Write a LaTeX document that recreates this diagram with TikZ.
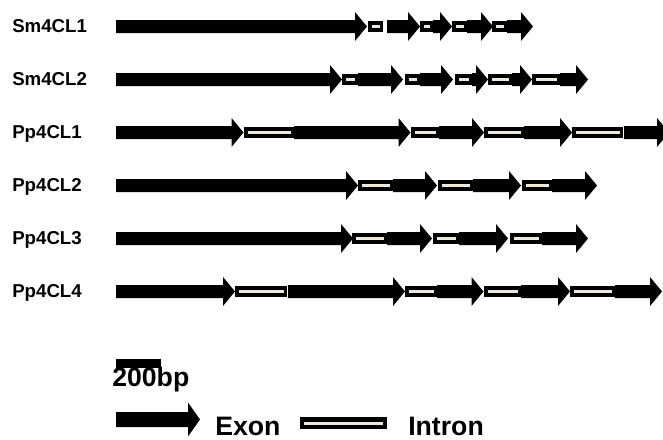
\documentclass[tikz,border=0pt]{standalone}
\usepackage{fontspec}
\setmainfont{Liberation Sans}
\usepackage{tikz}

\definecolor{introncream}{RGB}{236,232,220}

% exon: row y, start x, tip x
\newcommand{\exonarrow}[3]{%
  \fill (#2,#1-6.5) -- (#3-12,#1-6.5) -- (#3-12,#1-14.5) -- (#3,#1)
    -- (#3-12,#1+14.5) -- (#3-12,#1+6.5) -- (#2,#1+6.5) -- cycle;}
% intron: row y, start x, end x
\newcommand{\intronbox}[3]{%
  \fill (#2,#1-5.5) rectangle (#3,#1+5.5);
  \fill[introncream] (#2+3.5,#1-1.5) rectangle (#3-3.5,#1+1.5);}

\begin{document}
\begin{tikzpicture}[x=0.75pt, y=-0.75pt,
    genelabel/.style={anchor=base west, inner sep=0pt, font=\bfseries\fontsize{14}{16}\selectfont},
    legendtext/.style={anchor=base west, inner sep=0pt, text depth=0pt, font=\bfseries\fontsize{20}{24}\selectfont}]
        \useasboundingbox (0,0) rectangle (663,439);
        \clip (0,0) rectangle (663,439);

        % Gene names
        \node[genelabel] (sm1) at (12,32.2) {Sm4CL1};
        \node[genelabel] (sm2) at (12,85.2) {Sm4CL2};
        \node[genelabel] (pp1) at (12,138.2) {Pp4CL1};
        \node[genelabel] (pp2) at (12,191.2) {Pp4CL2};
        \node[genelabel] (pp3) at (12,244.2) {Pp4CL3};
        \node[genelabel] (pp4) at (12,297.2) {Pp4CL4};

        % Sm4CL1
        \foreach \xs/\xe in {368/383, 420/433, 452/467, 492/507} {\intronbox{26.5}{\xs}{\xe}}
        \foreach \xs/\xe in {116/367, 387/420, 433/452, 467/493, 507/533} {\exonarrow{26.5}{\xs}{\xe}}

        % Sm4CL2
        \foreach \xs/\xe in {342/358, 405/420, 455/472, 488/512, 532/560} {\intronbox{79.5}{\xs}{\xe}}
        \foreach \xs/\xe in {116/342, 358/403, 420/453, 472/488, 512/532, 560/588} {\exonarrow{79.5}{\xs}{\xe}}

        % Pp4CL1
        \foreach \xs/\xe in {244/294, 411/439, 484/524, 572/623} {\intronbox{132.5}{\xs}{\xe}}
        \foreach \xs/\xe in {116/243.5, 294/410.5, 439/484, 524/572, 624/669} {\exonarrow{132.5}{\xs}{\xe}}

        % Pp4CL2
        \foreach \xs/\xe in {358/393, 438/473, 522/552} {\intronbox{185.5}{\xs}{\xe}}
        \foreach \xs/\xe in {116/358, 393/437, 473/521, 552/597} {\exonarrow{185.5}{\xs}{\xe}}

        % Pp4CL3
        \foreach \xs/\xe in {352/387, 433/459, 510/542} {\intronbox{238.5}{\xs}{\xe}}
        \foreach \xs/\xe in {116/353, 387/432, 459/508, 542/588} {\exonarrow{238.5}{\xs}{\xe}}

        % Pp4CL4
        \foreach \xs/\xe in {235/287, 405/437, 484/521, 570/615} {\intronbox{291.5}{\xs}{\xe}}
        \foreach \xs/\xe in {116/235, 288/405, 437/483.5, 521/570, 615/662} {\exonarrow{291.5}{\xs}{\xe}}

        % Scale bar
        \fill (116,359) rectangle (161,368);
        \node[legendtext] (scale) at (112,386) {200bp};

        % Legend
        \fill (116,412) -- (188,412) -- (188,402.5) -- (200,419.5) -- (188,436.5) -- (188,427) -- (116,427) -- cycle;
        \node[legendtext] (exon) at (215,435) {Exon};
        \fill (300,417) rectangle (387,429);
        \fill[introncream] (304,421.5) rectangle (383,424.5);
        \node[legendtext] (intron) at (408,435) {Intron};
      \end{tikzpicture}
\end{document}
